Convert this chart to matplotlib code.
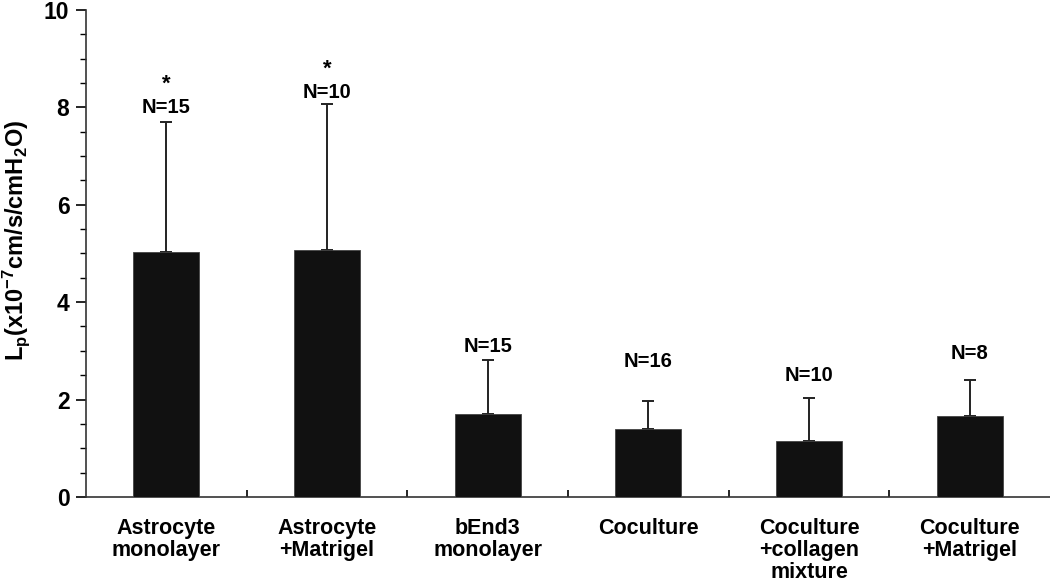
import matplotlib
matplotlib.use("Agg")
import matplotlib.pyplot as plt
import numpy as np

# Data
categories = ["Astrocyte\nmonolayer", "Astrocyte\n+Matrigel", "bEnd3\nmonolayer",
              "Coculture", "Coculture\n+collagen\nmixture", "Coculture\n+Matrigel"]
means = [5.03, 5.07, 1.70, 1.40, 1.15, 1.66]
errors = [2.66, 2.99, 1.11, 0.58, 0.88, 0.74]
n_labels = ["N=15", "N=10", "N=15", "N=16", "N=10", "N=8"]
label_y = [8.0, 8.3, 3.08, 2.79, 2.5, 2.94]
significant = [True, True, False, False, False, False]

plt.rcParams["font.family"] = "Liberation Sans"
plt.rcParams["font.weight"] = "bold"
plt.rcParams["mathtext.fontset"] = "custom"
plt.rcParams["mathtext.rm"] = "Liberation Sans:bold"
plt.rcParams["mathtext.it"] = "Liberation Sans:bold"
plt.rcParams["mathtext.bf"] = "Liberation Sans:bold"
plt.rcParams["mathtext.default"] = "rm"

fig = plt.figure(figsize=(10.5, 5.86), dpi=100)
ax = fig.add_axes([0.082, 0.152, 0.918, 0.831])

x = np.arange(len(categories))
ax.errorbar(x, means, yerr=[np.zeros(len(errors)), errors], fmt="none",
            ecolor="#222222", elinewidth=1.4, capsize=4, capthick=1.4, zorder=1)
ax.bar(x, means, width=0.41, color="#111111", edgecolor="#444444", linewidth=0.6, zorder=3)

for xi, txt, ly, sig in zip(x, n_labels, label_y, significant):
    ax.text(xi, ly, txt, ha="center", va="center", fontsize=14.5, fontweight="bold")
    if sig:
        ax.text(xi, ly + 0.48, "*", ha="center", va="center", fontsize=16, fontweight="bold")

ax.set_xlim(-0.5, len(categories) - 0.5)
ax.set_ylim(0, 10)
ax.set_yticks(np.arange(0, 11, 2))
ax.set_yticks(np.arange(0, 10.01, 0.5), minor=True)
ax.tick_params(axis="y", which="major", length=7, width=1.2, labelsize=16.5, pad=5)
ax.tick_params(axis="y", which="minor", length=4, width=1.0)
for lbl in ax.get_yticklabels():
    lbl.set_fontweight("bold")

ax.set_xticks(x)
ax.set_xticklabels(categories, fontsize=15.5, fontweight="bold", linespacing=1.07)
ax.set_xticks(np.arange(0.5, len(categories) - 0.5, 1), minor=True)
ax.tick_params(axis="x", which="major", length=0, pad=15)
ax.tick_params(axis="x", which="minor", direction="in", length=5, width=1.2)

ax.spines["top"].set_visible(False)
ax.spines["right"].set_visible(False)
ax.spines["left"].set_linewidth(1.2)
ax.spines["bottom"].set_linewidth(1.2)
ax.spines["left"].set_color("#333333")
ax.spines["bottom"].set_color("#333333")

ax.set_ylabel(r"L$_p$(x10$^{-7}$cm/s/cmH$_2$O)", fontsize=17, fontweight="bold")
ax.yaxis.set_label_coords(-0.056, 0.527)

fig.savefig("out.png", dpi=100)
